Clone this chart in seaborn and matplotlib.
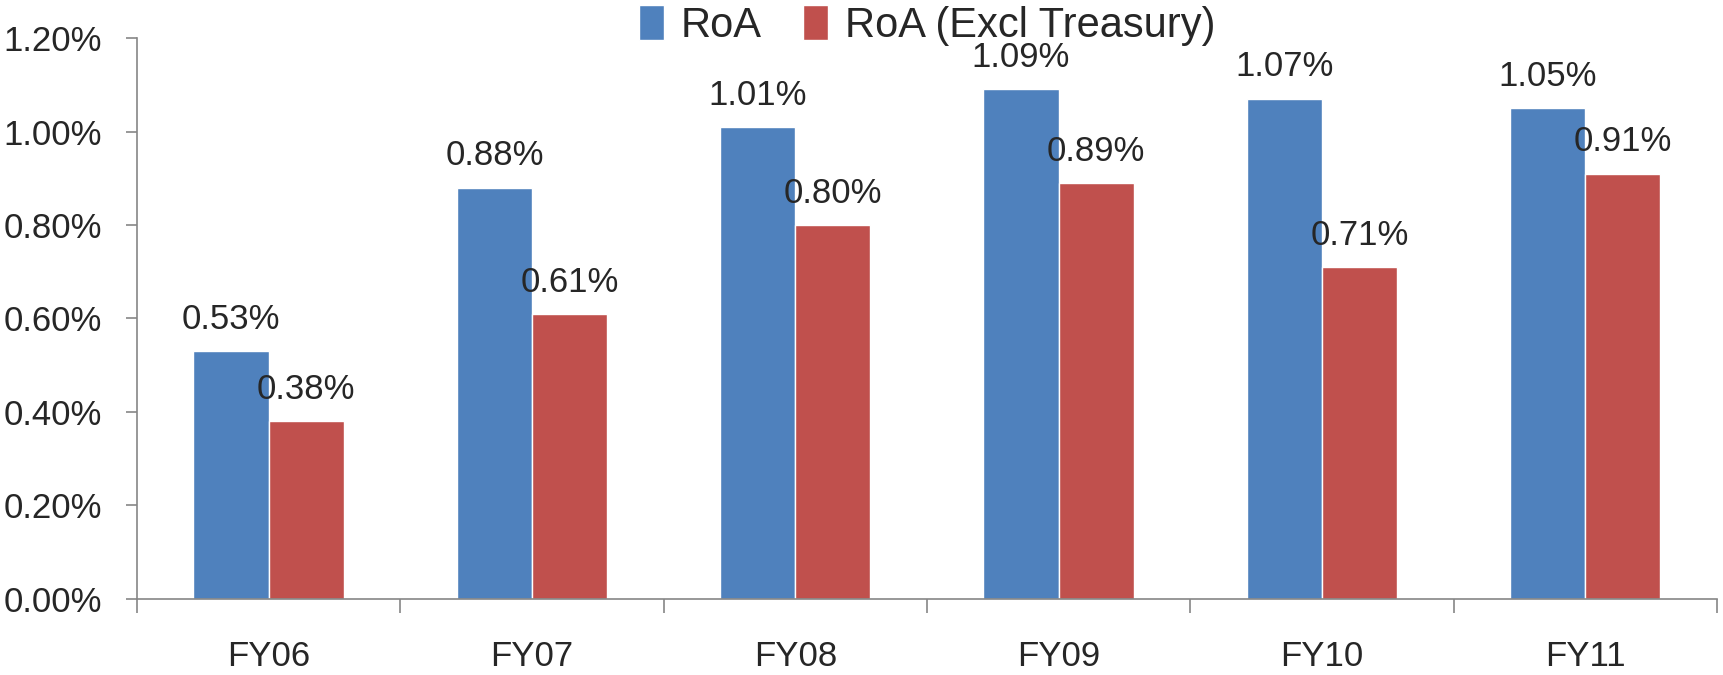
import matplotlib
matplotlib.use("Agg")
import matplotlib.pyplot as plt
import seaborn as sns
import pandas as pd
from matplotlib.ticker import FuncFormatter, FixedLocator

years = ["FY06", "FY07", "FY08", "FY09", "FY10", "FY11"]
roa = [0.53, 0.88, 1.01, 1.09, 1.07, 1.05]
roa_excl = [0.38, 0.61, 0.80, 0.89, 0.71, 0.91]
series = ["RoA", "RoA (Excl Treasury)"]
colors = ["#4F81BD", "#C0504D"]

df = pd.DataFrame({
    "year": years * 2,
    "value": roa + roa_excl,
    "series": [series[0]] * len(years) + [series[1]] * len(years),
})

sns.set_style("white")
plt.rcParams["font.family"] = ["Liberation Sans", "DejaVu Sans"]

fig = plt.figure(figsize=(17.23, 6.75), dpi=100)
ax = fig.add_axes([0.0795, 0.1126, 0.917, 0.8311])

sns.barplot(data=df, x="year", y="value", hue="series", palette=colors,
            width=0.571, gap=0, ax=ax, saturation=1)

for c in ax.containers:
    ax.bar_label(c, labels=[f"{v:.2f}%" for v in c.datavalues],
                 padding=11, fontsize=25)

# Axis styling
ax.set_ylim(0, 1.2)
ax.set_xlim(-0.5, 5.5)
ax.set_yticks([0, 0.2, 0.4, 0.6, 0.8, 1.0, 1.2])
ax.yaxis.set_major_formatter(FuncFormatter(lambda v, p: f"{v:.2f}%"))
ax.set_xlabel("")
ax.set_ylabel("")

for s in ["top", "right"]:
    ax.spines[s].set_visible(False)
for s in ["left", "bottom"]:
    ax.spines[s].set_color("#868686")
    ax.spines[s].set_linewidth(1.2)

ax.tick_params(axis="y", which="major", left=True, length=8, width=1.2,
               color="#868686", labelsize=25, pad=17)
ax.tick_params(axis="x", which="major", bottom=False, labelsize=25, pad=26)
ax.xaxis.set_minor_locator(FixedLocator([i - 0.5 for i in range(len(years) + 1)]))
ax.tick_params(axis="x", which="minor", bottom=True, length=10, width=1.2,
               color="#868686")

ax.legend(loc="upper center", bbox_to_anchor=(0.5, 1.088), ncol=2, frameon=False,
          fontsize=30, handlelength=0.6, handleheight=0.9, handletextpad=0.4,
          columnspacing=1.0, borderaxespad=0)

fig.savefig("out.png", dpi=100)
